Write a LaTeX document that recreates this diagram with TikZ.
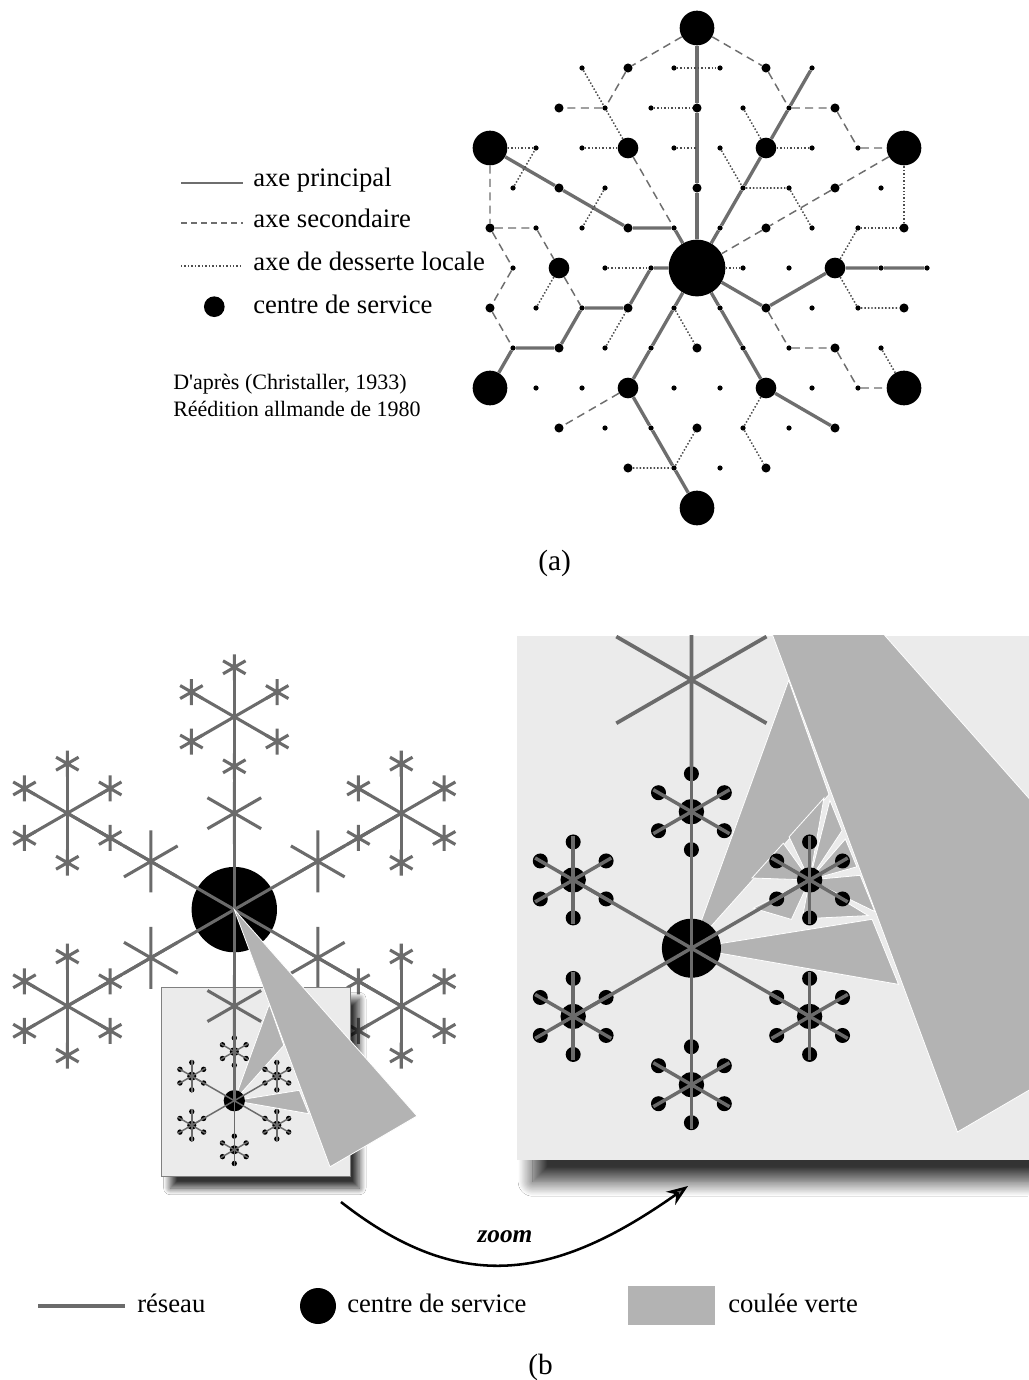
\documentclass[tikz,border=0pt]{standalone}
\usepackage{fontspec}
\setmainfont{Liberation Serif}[Ligatures=TeXOff]
\usetikzlibrary{arrows.meta,shadows.blur}
\definecolor{netgray}{HTML}{6E6E6E}
\definecolor{armgray}{HTML}{6B6B6B}
\definecolor{couleegray}{HTML}{B3B3B3}
\definecolor{panelbg}{HTML}{EBEBEB}
\newcommand\sixstar[1]{\draw (30:#1) -- (210:#1) (90:#1) -- (270:#1) (150:#1) -- (330:#1);}
\newcommand\flakebody[1]{%
  \foreach \a in {30,90,...,330}{%
    \begin{scope}[shift={(\a:136.5)}]
      \fill[black] (0,0) circle (12.7);
      \foreach \b in {30,90,...,330}{\fill[black] (\b:38) circle (7.5);}
    \end{scope}
  }
  \fill[black] (0,0) circle (29.5);
  \begin{scope}[color=armgray, line width=#1]
    \foreach \a in {30,90,...,330}{%
      \draw (0,0) -- (\a:136.5);
      \begin{scope}[shift={(\a:136.5)}]
        \foreach \b in {30,90,...,330}{\draw (0,0) -- (\b:44);}
      \end{scope}
    }
  \end{scope}
}
\begin{document}
\begin{tikzpicture}[x=0.75pt,y=-0.75pt,
  principal/.style={draw=netgray, line width=2.5pt},
  secondaire/.style={draw=netgray, line width=1.1pt, dash pattern=on 6pt off 4pt},
  locale/.style={draw=netgray!70!black, line width=1.15pt, dash pattern=on 1.1pt off 1.5pt},
  dotB/.style={circle, fill=black, inner sep=0pt, minimum size=26pt},
  dotC/.style={circle, fill=black, inner sep=0pt, minimum size=42.5pt},
  dotM/.style={circle, fill=black, inner sep=0pt, minimum size=15.5pt},
  dotS/.style={circle, fill=black, inner sep=0pt, minimum size=6.8pt},
  dotT/.style={circle, fill=black, inner sep=0pt, minimum size=3.9pt},
  lgd/.style={anchor=base west, inner sep=0pt, font=\fontsize{20}{24}\selectfont},
  src/.style={anchor=base west, inner sep=0pt, font=\fontsize{16.5}{20}\selectfont},
  armsc/.style={color=armgray, line width=2.3pt},
  coulee/.style={fill=couleegray, draw=white, line width=0.6pt},
]
\fill[white] (0,0) rectangle (1028,1380);
\path[use as bounding box] (0,0) rectangle (1028,1380);

% ================= (a) network =================
\foreach \u/\v in {0/6,-9/3,9/3,-9/-3,9/-3,0/-6}
  \node[dotB] (n\u x\v) at ({697+23*\u},{268-40*\v}) {};
\node[dotC] (n0x0) at (697,268) {};
\foreach \u/\v in {-3/3,3/3,-6/0,6/0,-3/-3,3/-3}
  \node[dotM] (n\u x\v) at ({697+23*\u},{268-40*\v}) {};
\foreach \u/\v in {-3/5,3/5,-6/4,0/4,6/4,-6/2,0/2,6/2,-9/1,-3/1,3/1,9/1,-9/-1,-3/-1,3/-1,9/-1,-6/-2,0/-2,6/-2,-6/-4,0/-4,6/-4,-3/-5,3/-5}
  \node[dotS] (n\u x\v) at ({697+23*\u},{268-40*\v}) {};
\foreach \u/\v in {-5/5,-1/5,1/5,5/5,
  -4/4,-2/4,2/4,4/4,
  -7/3,-5/3,-1/3,1/3,5/3,7/3,
  -8/2,-4/2,2/2,4/2,8/2,
  -7/1,-5/1,-1/1,1/1,5/1,7/1,
  -8/0,-4/0,-2/0,2/0,4/0,8/0,10/0,
  -7/-1,-5/-1,-1/-1,1/-1,5/-1,7/-1,
  -8/-2,-4/-2,-2/-2,2/-2,4/-2,8/-2,
  -7/-3,-5/-3,-1/-3,1/-3,5/-3,7/-3,
  -4/-4,-2/-4,2/-4,4/-4,
  -1/-5,1/-5}
  \node[dotT] (n\u x\v) at ({697+23*\u},{268-40*\v}) {};
\coordinate (ax3) at (697,148);

% axes principaux
\draw[principal] (n0x6) -- (n0x4) -- (n0x2) -- (n0x0);
\draw[principal] (n0x0) -- (n1x1) -- (n2x2) -- (n3x3) -- (n4x4) -- (n5x5);
\draw[principal] (n-9x3) -- (n-6x2) -- (n-3x1) -- (n-1x1) -- (n0x0);
\draw[principal] (n0x0) -- (n3x-1) -- (n6x0) -- (n8x0) -- (n10x0);
\draw[principal] (n0x0) -- (n-1x-1) -- (n-2x-2) -- (n-3x-3) -- (n-2x-4) -- (n-1x-5) -- (n0x-6);
\draw[principal] (n0x0) -- (n1x-1) -- (n2x-2) -- (n3x-3) -- (n6x-4);
\draw[principal] (n0x0) -- (n-2x0) -- (n-3x-1) -- (n-5x-1) -- (n-6x-2) -- (n-8x-2) -- (n-9x-3);
% axes secondaires
\draw[secondaire] (n0x6) -- (n-3x5) -- (n-4x4) -- (n-6x4);
\draw[secondaire] (n-3x3) -- (n-1x1);
\draw[secondaire] (n0x6) -- (n3x5) -- (n4x4) -- (n6x4) -- (n7x3) -- (n9x3);
\draw[secondaire] (n9x3) -- (n6x2) -- (n3x1) -- (n0x0);
\draw[secondaire] (n-9x3) -- (n-9x1) -- (n-7x1) -- (n-6x0);
\draw[secondaire] (n-9x1) -- (n-8x0) -- (n-9x-1) -- (n-8x-2);
\draw[secondaire] (n-6x0) -- (n-5x-1);
\draw[secondaire] (n-3x-3) -- (n-6x-4);
\draw[secondaire] (n3x-1) -- (n4x-2) -- (n6x-2) -- (n7x-3) -- (n9x-3);
% desserte locale
\draw[locale] (n-1x5) -- (n1x5);
\draw[locale] (n-5x5) -- (n-4x4) -- (n-3x3);
\draw[locale] (n-2x4) -- (n0x4);
\draw[locale] (n-9x3) -- (n-7x3);
\draw[locale] (n-8x2) -- (n-7x3);
\draw[locale] (n-5x3) -- (n-3x3);
\draw[locale] (n-1x3) -- (ax3);
\draw[locale] (n1x3) -- (n2x2) -- (n4x2) -- (n5x1);
\draw[locale] (n3x3) -- (n5x3);
\draw[locale] (n2x4) -- (n3x3);
\draw[locale] (n-4x2) -- (n-5x1);
\draw[locale] (n7x1) -- (n9x1) -- (n9x3);
\draw[locale] (n7x1) -- (n6x0) -- (n7x-1) -- (n9x-1);
\draw[locale] (n0x0) -- (n2x0);
\draw[locale] (n-4x0) -- (n-2x0);
\draw[locale] (n-6x0) -- (n-7x-1);
\draw[locale] (n-4x-2) -- (n-3x-1);
\draw[locale] (n-1x-1) -- (n0x-2);
\draw[locale] (n-3x-5) -- (n-1x-5) -- (n0x-4);
\draw[locale] (n3x-3) -- (n2x-4) -- (n3x-5);
\draw[locale] (n8x-2) -- (n9x-3);

% legend (a)
\coordinate (lpa) at (181,183); \coordinate (lpb) at (243,183);
\coordinate (lsa) at (181,223); \coordinate (lsb) at (243,223);
\coordinate (lla) at (181,266); \coordinate (llb) at (243,266);
\draw[principal, line width=2pt] (lpa) -- (lpb);
\draw[secondaire, dash pattern=on 4.5pt off 3pt] (lsa) -- (lsb);
\draw[locale] (lla) -- (llb);
\node[dotM] (lgc) at (214.3,306.7) {};
\node[lgd] (t1) at (253,187) {axe principal};
\node[lgd] (t2) at (253,228) {axe secondaire};
\node[lgd] (t3) at (253,270) {axe de desserte locale};
\node[lgd] (t4) at (253,313) {centre de service};
\node[src] (t5) at (173,389) {D'après (Christaller, 1933)};
\node[src] (t6) at (173,416) {Réédition allmande de 1980};
\node[anchor=base west, inner sep=0pt, font=\fontsize{22}{26}\selectfont] (labA) at (538,570) {(a)};

% ================= (b) left snowflake =================
\begin{scope}[shift={(234.3,909.6)}]
  \fill[black] (0,0) circle (42.7);
  \begin{scope}[armsc]
    \foreach \a in {30,150,210,270,330}{%
      \draw (0,0) -- (\a:192.8);
      \begin{scope}[shift={(\a:192.8)}]
        \foreach \b in {30,90,...,330}{%
          \draw (0,0) -- (\b:49.5);
          \begin{scope}[shift={(\b:49.5)}]\sixstar{13}\end{scope}
        }
      \end{scope}
      \begin{scope}[shift={(\a:96.4)}]\sixstar{31}\end{scope}
    }
  \end{scope}
\end{scope}

% zoom box
\fill[panelbg, draw=gray, line width=0.6pt,
  blur shadow={shadow xshift=7pt, shadow yshift=-9pt, shadow blur radius=5pt, shadow blur steps=20, shadow opacity=80}]
  (161,987) rectangle (350,1176);
\begin{scope}[shift={(234.3,1100.7)}]
  \fill[coulee] (0,0) -- (35,-96.4) -- (49.5,-55.3) -- cycle;
  \fill[coulee] (0,0) -- (65,-10.4) -- (74.5,13) -- cycle;
  \begin{scope}[scale=0.3597]\flakebody{1.1pt}\end{scope}
\end{scope}
\begin{scope}[shift={(234.3,909.6)}, armsc]
  \draw (0,0) -- (90:191.1);
  \begin{scope}[shift={(90:96.4)}]\sixstar{31}\end{scope}
\end{scope}
\fill[coulee] (234.3,909.6) -- (417,1116) -- (330,1166.8) -- cycle;

% ================= (b) zoomed panel =================
\fill[panelbg, blur shadow={shadow xshift=12pt, shadow yshift=-16pt, shadow blur radius=11pt, shadow blur steps=24, shadow opacity=80}]
  (516.8,635.9) rectangle (1060,1160.2);
\begin{scope}
  \clip (516.8,635.9) rectangle (1060,1160.2);
  \begin{scope}[shift={(691.4,948.2)}]
    \begin{scope}[scale=2.78]
      \fill[coulee] (0,-191.1) -- (182.7,15.3) -- (95.7,66.1) -- cycle;
      \fill[coulee] (0,0) -- (35,-96.4) -- (49.5,-55.3) -- cycle;
      \fill[coulee] (0,0) -- (65,-10.4) -- (74.5,13) -- cycle;
    \end{scope}
    % fan of small wedges around the upper-right sub-centre
    \foreach \p/\q in {{60.6,-70.2}/{91.9,-105},{97.7,-111.4}/{132.5,-150.1},
                       {138.5,-148}/{150.7,-117.7},{154,-109.2}/{165.4,-81.4},
                       {168.8,-72.9}/{183.5,-36.6},{176.8,-32.6}/{110.8,-29.4},
                       {100,-28.8}/{62,-40}}
      \fill[coulee] (118.2,-68.25) -- (\p) -- (\q) -- cycle;
    \flakebody{2.6pt}
    \begin{scope}[armsc, line width=2.8pt]
      \draw (0,0) -- (0,-700);
      \begin{scope}[shift={(0,-268.3)}]\sixstar{86.7}\end{scope}
    \end{scope}
  \end{scope}
\end{scope}

% zoom arrow
\coordinate (zs) at (341,1202);
\coordinate (ze) at (688,1186);
\draw[line width=1.9pt, -{Stealth[length=16pt,width=12pt]}] (zs) .. controls (461,1296) and (555,1280) .. (ze);
\node[inner sep=0pt, font=\bfseries\itshape\fontsize{19}{22}\selectfont] (zl) at (505,1237) {zoom};

% legend (b)
\coordinate (lra) at (38,1306); \coordinate (lrb) at (125,1306);
\draw[armsc] (lra) -- (lrb);
\node[lgd] (b1) at (137,1312) {réseau};
\node[circle, fill=black, inner sep=0pt, minimum size=27pt] (bc) at (318,1306) {};
\node[lgd] (b2) at (347,1312) {centre de service};
\node[fill=couleegray, inner sep=0pt, minimum width=65pt, minimum height=29pt] (bsq) at (671.5,1305.5) {};
\node[lgd] (b3) at (728,1312) {coulée verte};
\node[anchor=base west, inner sep=0pt, font=\fontsize{22}{26}\selectfont] (labB) at (528,1374) {(b};
\end{tikzpicture}
\end{document}
